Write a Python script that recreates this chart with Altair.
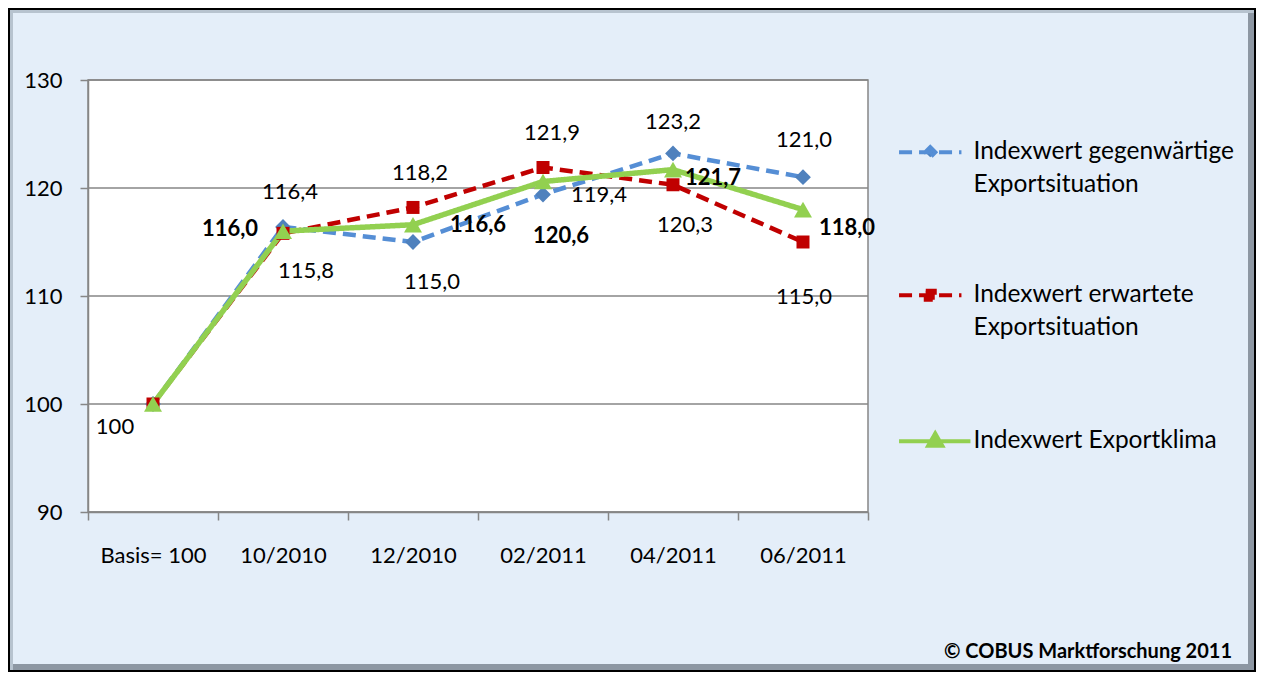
import altair as alt
import pandas as pd

# ---------------- data ----------------
categories = ["Basis= 100", "10/2010", "12/2010", "02/2011", "04/2011", "06/2011"]
series_names = [
    "Indexwert gegenwärtige Exportsituation",
    "Indexwert erwartete Exportsituation",
    "Indexwert Exportklima",
]
legend_label_lines = [
    ["Indexwert gegenwärtige", "Exportsituation"],
    ["Indexwert erwartete", "Exportsituation"],
    ["Indexwert Exportklima"],
]
values_gegenwaertig = [100.0, 116.4, 115.0, 119.4, 123.2, 121.0]
values_erwartet = [100.0, 115.8, 118.2, 121.9, 120.3, 115.0]
values_klima = [100.0, 116.0, 116.6, 120.6, 121.7, 118.0]
y_ticks = [90, 100, 110, 120, 130]
footer_text = "© COBUS Marktforschung 2011"

# ---------------- styles ----------------
FONT = "Lato"
FS = 22
LEG_FS = 24.5
GRID = "#868686"
line_colors = ["#558ed5", "#c00000", "#92d050"]
marker_colors = ["#4f81bd", "#c00000", "#92d050"]
dash_styles = [[13, 7], [13, 7], [1, 0]]
line_widths = [4.5, 4.5, 5.5]
marker_shapes = ["diamond", "square", "triangle-up"]
marker_sizes = [250, 169, 324]
label_weights = ["normal", "normal", "bold"]
legend_paths = [
    "M-5.2,0H5.2M0,-0.85L0.85,0L0,0.85L-0.85,0Z",
    "M-5.2,0H5.2M-0.75,-0.75H0.75V0.75H-0.75Z",
    "M-5.2,0H6.7M0.83,-1.3L2.0,0.75L-0.34,0.75Z",
]
# label placement (dx, dy) per point; None = no label
label_offsets = [
    [None, (7, -35), (19, 40), (56, 1), (0, -31), (1, -37)],
    [(-38, 23), (23, 38), (7, -34), (9, -34), (12, 40), (1, 55)],
    [None, (-53, -2), (65, 0), (18, 54), (40, 8), (44, 18)],
]

all_values = [values_gegenwaertig, values_erwartet, values_klima]

rows = []
for s, vals in zip(series_names, all_values):
    for c, v in zip(categories, vals):
        rows.append({"cat": c, "series": s, "value": v})
df = pd.DataFrame(rows)

x_enc = alt.X(
    "cat:N",
    sort=categories,
    scale=alt.Scale(type="band", paddingInner=0, paddingOuter=0),
    axis=alt.Axis(
        title=None,
        labelAngle=0,
        tickBand="extent",
        tickSize=8,
        tickWidth=1.5,
        tickColor=GRID,
        domainColor=GRID,
        domainWidth=1.5,
        labelFont=FONT,
        labelFontSize=FS,
        labelColor="black",
        labelPadding=25,
        grid=False,
        zindex=1,
    ),
)
y_enc = alt.Y(
    "value:Q",
    scale=alt.Scale(domain=[90, 130], nice=False, zero=False),
    axis=alt.Axis(
        title=None,
        values=y_ticks,
        tickSize=8,
        tickWidth=1.5,
        tickColor=GRID,
        domainColor=GRID,
        domainWidth=1.5,
        labelFont=FONT,
        labelFontSize=FS,
        labelColor="black",
        labelPadding=18,
        grid=False,
        zindex=1,
    ),
)

layers = []

# decorative frame
frame_df = pd.DataFrame({"k": [0]})
layers.append(
    alt.Chart(frame_df).mark_rect(fill="#b7c3cf").encode(
        x=alt.value(-78), x2=alt.value(1166), y=alt.value(-70), y2=alt.value(590)
    )
)
layers.append(
    alt.Chart(frame_df).mark_rect(fill="#8d97a3").encode(
        x=alt.value(-75), x2=alt.value(1166), y=alt.value(-67), y2=alt.value(590)
    )
)
layers.append(
    alt.Chart(frame_df).mark_rect(fill="#e4eef9").encode(
        x=alt.value(-75), x2=alt.value(1160), y=alt.value(-67), y2=alt.value(584)
    )
)
layers.append(
    alt.Chart(frame_df).mark_rect(fill="white", stroke=GRID, strokeWidth=1.5).encode(
        x=alt.value(0), x2=alt.value(780), y=alt.value(0), y2=alt.value(432)
    )
)
layers.append(
    alt.Chart(frame_df).mark_rect(filled=False, stroke="black", strokeWidth=2).encode(
        x=alt.value(-79), x2=alt.value(1167), y=alt.value(-71), y2=alt.value(591)
    )
)

# horizontal gridlines at the y ticks
grid_df = pd.DataFrame({"value": y_ticks})
layers.append(
    alt.Chart(grid_df).mark_rule(color=GRID, strokeWidth=1.5).encode(y=y_enc)
)

# lines and markers
for i, s in enumerate(series_names):
    sdf = df[df.series == s]
    layers.append(
        alt.Chart(sdf).mark_line(
            color=line_colors[i],
            strokeWidth=line_widths[i],
            strokeDash=dash_styles[i],
        ).encode(x=x_enc, y=y_enc)
    )
for i, s in enumerate(series_names):
    sdf = df[df.series == s]
    layers.append(
        alt.Chart(sdf).mark_point(
            shape=marker_shapes[i],
            size=marker_sizes[i],
            filled=True,
            opacity=1,
            color=marker_colors[i],
        ).encode(x=x_enc, y=y_enc)
    )

# data labels
for i, s in enumerate(series_names):
    for j, c in enumerate(categories):
        off = label_offsets[i][j]
        if off is None:
            continue
        v = all_values[i][j]
        txt = "100" if j == 0 else f"{v:.1f}".replace(".", ",")
        ldf = pd.DataFrame([{"cat": c, "value": v, "txt": txt}])
        layers.append(
            alt.Chart(ldf).mark_text(
                dx=off[0], dy=off[1], font=FONT, fontSize=FS,
                fontWeight=label_weights[i], color="black",
            ).encode(x=x_enc, y=y_enc, text="txt:N")
        )

# legend-only layer
label_expr = " : ".join(
    f"datum.label == '{n}' ? {lines!r}" for n, lines in zip(series_names, legend_label_lines)
) + " : datum.label"

leg = alt.Legend(
    title=None,
    orient="none",
    legendX=830,
    legendY=60,
    direction="vertical",
    symbolSize=144,
    symbolStrokeWidth=4,
    symbolOpacity=1,
    labelFont=FONT,
    labelFontSize=LEG_FS,
    labelColor="black",
    labelOffset=31,
    labelLimit=400,
    rowPadding=85,
    labelExpr=label_expr,
    padding=0,
)
layers.append(
    alt.Chart(df).transform_filter("false").mark_point(filled=True, opacity=1, strokeWidth=4).encode(
        x=x_enc,
        y=y_enc,
        color=alt.Color("series:N", scale=alt.Scale(domain=series_names, range=marker_colors), legend=leg),
        stroke=alt.Stroke("series:N", scale=alt.Scale(domain=series_names, range=line_colors), legend=leg),
        shape=alt.Shape("series:N", scale=alt.Scale(domain=series_names, range=legend_paths), legend=leg),
        strokeDash=alt.StrokeDash("series:N", scale=alt.Scale(domain=series_names, range=dash_styles), legend=leg),
    )
)

chart = alt.layer(*layers).properties(
    width=780,
    height=432,
    autosize=alt.AutoSizeParams(type="none"),
    padding={"left": 80, "top": 72, "right": 388, "bottom": 160},
    background="#e4eef9",
    title=alt.TitleParams(
        footer_text,
        orient="bottom",
        anchor="end",
        frame="group",
        dx=364,
        offset=-30,
        font=FONT,
        fontSize=20,
        fontWeight="bold",
        color="black",
    ),
).configure_view(stroke=None).configure(
    style={"guide-label": {"lineHeight": 33}}
)

chart.save("out.html", embed_options={"renderer": "svg", "actions": False})
